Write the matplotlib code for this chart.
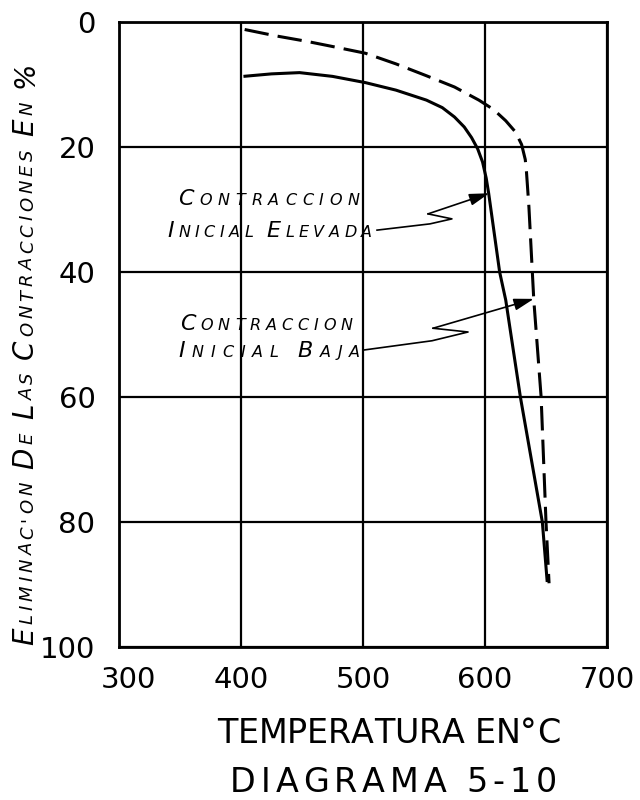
import matplotlib
matplotlib.use('Agg')
import matplotlib.pyplot as plt
import matplotlib.transforms as mtransforms

# temperatura (grados C) y eliminacion de contracciones (%)
temp_elevada = [402, 425, 448, 475, 502, 527, 552, 565, 575, 583, 589, 594, 598, 601, 603, 612, 617, 629, 647, 651]
elim_elevada = [8.7, 8.3, 8.1, 8.7, 9.7, 10.9, 12.5, 13.7, 15.2, 16.8, 18.5, 20.3, 22.4, 25.0, 27.4, 40.0, 44.5, 60.0, 80.0, 89.6]

temp_baja = [403, 428, 454, 477, 502, 527, 552, 575, 595, 607, 617, 625, 630, 633, 634, 636, 640, 646, 650, 652.5]
elim_baja = [1.2, 2.2, 3.1, 4.0, 5.0, 6.7, 8.6, 10.4, 12.5, 14.0, 15.8, 17.6, 19.6, 22.0, 24.0, 29.6, 44.5, 60.0, 80.0, 89.8]

x_ticks = [300, 400, 500, 600, 700]
y_ticks = [0, 20, 40, 60, 80, 100]

# lineas de referencia de las notas (temperatura, %)
nota_elevada = [(511.5, 33.3), (554.9, 32.3), (572.9, 31.5), (553.3, 30.7), (603.5, 27.4)]
nota_baja = [(500.0, 52.5), (556.6, 51.0), (586.1, 49.6), (557.4, 49.0), (640.0, 44.3)]

W, H = 640, 800
fig = plt.figure(figsize=(W / 100, H / 100), dpi=100)
ax = fig.add_axes([119 / W, 1 - 647 / H, (607 - 119) / W, (647 - 22) / H])

ax.plot(temp_elevada, elim_elevada, color='black', lw=2.2, solid_capstyle='butt',
        solid_joinstyle='round')
ax.plot(temp_baja, elim_baja, color='black', lw=2.2, linestyle=(0, (8, 3)))

for path in (nota_elevada, nota_baja):
    xs = [p[0] for p in path[:-1]]
    ys = [p[1] for p in path[:-1]]
    ax.plot(xs, ys, color='black', lw=1.2)
    ax.annotate('', xy=path[-1], xytext=path[-2],
                arrowprops=dict(arrowstyle='-|>,head_length=0.6,head_width=0.18',
                                color='black', lw=1.2, mutation_scale=20,
                                shrinkA=0, shrinkB=0))

ax.set_xlim(300, 700)
ax.set_ylim(100, 0)
ax.set_xticks(x_ticks)
ax.set_yticks(y_ticks)
ax.set_xticklabels([str(v) for v in x_ticks], fontsize=21)
ax.set_yticklabels([str(v) for v in y_ticks], fontsize=21)
ax.tick_params(length=0)
ax.tick_params(axis='x', pad=14)
ax.tick_params(axis='y', pad=17)
ax.grid(True, color='black', lw=1.6)
for s in ax.spines.values():
    s.set_linewidth(2.0)

# el 300 va corrido un poco a la derecha
lbl = ax.get_xticklabels()[0]
lbl.set_transform(lbl.get_transform() + mtransforms.ScaledTranslation(0.09, 0, fig.dpi_scale_trans))

renderer = fig.canvas.get_renderer()


def spaced_text(x, y, text, big, small, length, rotation=0, caps=True, **kw):
    """Texto en versalitas con espaciado para ocupar `length` pixeles.
    x, y en pixeles desde arriba a la izquierda (linea base del inicio)."""
    pieces = []
    first = True
    for ch in text:
        if ch == ' ':
            pieces.append((ch, small))
            first = True
            continue
        pieces.append((ch, big if (first and caps) else small))
        first = False
    widths = []
    for ch, size in pieces:
        if ch == ' ':
            widths.append(0.3 * size * 100 / 72)
            continue
        t = fig.text(0, 0, ch, fontsize=size, **kw)
        widths.append(t.get_window_extent(renderer).width)
        t.remove()
    gap = (length - sum(widths)) / (len(pieces) - 1)
    pos = 0.0
    for (ch, size), w in zip(pieces, widths):
        if ch != ' ':
            if rotation:
                fig.text(x / W, 1 - (y - pos) / H, ch, fontsize=size, rotation=90,
                         rotation_mode='anchor', ha='left', va='baseline', **kw)
            else:
                fig.text((x + pos) / W, 1 - y / H, ch, fontsize=size,
                         ha='left', va='baseline', **kw)
        pos += w + gap


hand = dict(style='italic')
spaced_text(178, 205, 'CONTRACCION', 16, 11.5, 182, **hand)
spaced_text(167, 237, 'INICIAL ELEVADA', 16, 11.5, 205, **hand)
spaced_text(180, 330, 'CONTRACCION', 16, 11.5, 173, **hand)
spaced_text(178, 357, 'INICIAL BAJA', 16, 11.5, 182, **hand)

spaced_text(33, 645, "ELIMINAC'ON DE LAS CONTRACCIONES EN %", 20, 13, 583, rotation=90, **hand)

spaced_text(217, 743, 'TEMPERATURA EN°C', 24, 24, 343, caps=False)
spaced_text(230, 792, 'DIAGRAMA 5-10', 24, 24, 327, caps=False)

fig.savefig('out.png', dpi=100)
